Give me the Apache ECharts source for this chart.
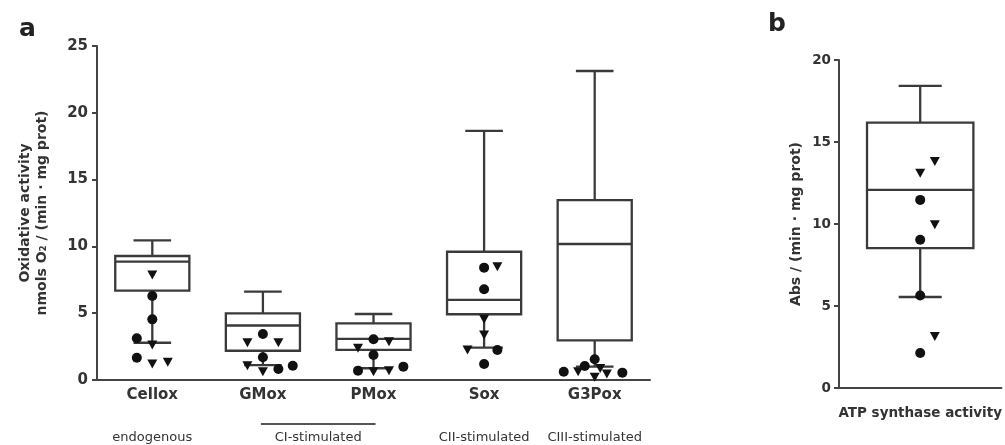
<!DOCTYPE html>
<html><head><meta charset="utf-8">
<script src="https://cdn.jsdelivr.net/npm/echarts@6/dist/echarts.min.js"></script>
<style>html,body{margin:0;padding:0;background:#fff}#c{width:1005px;height:445px}</style>
</head><body><div id="c"></div>
<script>
// ---------- data ----------
const categoriesA = ['Cellox', 'GMox', 'PMox', 'Sox', 'G3Pox'];
const groupLabels = ['endogenous', 'CI-stimulated', 'CII-stimulated', 'CIII-stimulated'];
const groupFrom = [0, 1, 3, 4];
const groupTo = [0, 2, 3, 4];
const yTicksA = [0, 5, 10, 15, 20, 25];
const boxMinA = [2.79, 1.12, 0.88, 2.42, 1.00];
const boxQ1A  = [6.69, 2.19, 2.25, 4.92, 2.96];
const boxMedA = [8.86, 4.08, 3.08, 5.99, 10.18];
const boxQ3A  = [9.28, 4.99, 4.24, 9.60, 13.47];
const boxMaxA = [10.45, 6.61, 4.94, 18.64, 23.13];
// [category index, horizontal jitter (category units), value]
const circlesA = [
  [0, 0, 6.29], [0, 0, 4.54], [0, -0.14, 3.12], [0, -0.14, 1.67],
  [1, 0, 3.44], [1, 0, 1.70], [1, 0.14, 0.82], [1, 0.27, 1.07],
  [2, 0, 3.05], [2, 0, 1.87], [2, -0.14, 0.70], [2, 0.27, 1.00],
  [3, 0, 8.41], [3, 0, 6.79], [3, 0.12, 2.25], [3, 0, 1.20],
  [4, 0, 1.55], [4, -0.09, 1.05], [4, -0.28, 0.62], [4, 0.25, 0.55]
];
const trianglesA = [
  [0, 0, 7.86], [0, 0, 2.62], [0, 0, 1.20], [0, 0.14, 1.32],
  [1, -0.14, 2.79], [1, 0.14, 2.79], [1, -0.14, 1.07], [1, 0, 0.62],
  [2, 0.14, 2.87], [2, -0.14, 2.37], [2, 0, 0.62], [2, 0.14, 0.70],
  [3, 0.12, 8.48], [3, 0, 4.54], [3, 0, 3.37], [3, -0.15, 2.25],
  [4, -0.15, 0.62], [4, 0.11, 0.45], [4, 0, 0.20], [4, 0.05, 0.87]
];

const categoriesB = ['ATP synthase activity'];
const yTicksB = [0, 5, 10, 15, 20];
const boxMinB = [5.55];
const boxQ1B  = [8.53];
const boxMedB = [12.08];
const boxQ3B  = [16.18];
const boxMaxB = [18.42];
const circlesB = [[0, 0, 11.47], [0, 0, 9.04], [0, 0, 5.64], [0, 0, 2.13]];
const trianglesB = [[0, 0.09, 13.81], [0, 0, 13.10], [0, 0.09, 9.95], [0, 0.09, 3.14]];

// ---------- styles ----------
const FONT = '"DejaVu Sans", "Liberation Sans", Arial, sans-serif';
const AX = '#444';
const BOXC = '#3a3a3a';
const MK = '#111';

function boxRenderer(boxFrac, capFrac) {
  return function (params, api) {
    const x = api.value(0);
    const band = api.size([1, 0])[0];
    const hw = band * boxFrac / 2, cw = band * capFrac / 2;
    const pMin = api.coord([x, api.value(1)]);
    const pQ1 = api.coord([x, api.value(2)]);
    const pMed = api.coord([x, api.value(3)]);
    const pQ3 = api.coord([x, api.value(4)]);
    const pMax = api.coord([x, api.value(5)]);
    const cx = pMin[0];
    const ls = { stroke: BOXC, lineWidth: 2.3, fill: null };
    return {
      type: 'group',
      children: [
        { type: 'line', shape: { x1: cx, y1: pQ3[1], x2: cx, y2: pMax[1] }, style: ls },
        { type: 'line', shape: { x1: cx, y1: pQ1[1], x2: cx, y2: pMin[1] }, style: ls },
        { type: 'line', shape: { x1: cx - cw, y1: pMax[1], x2: cx + cw, y2: pMax[1] }, style: ls },
        { type: 'line', shape: { x1: cx - cw, y1: pMin[1], x2: cx + cw, y2: pMin[1] }, style: ls },
        { type: 'rect', shape: { x: cx - hw, y: pQ3[1], width: 2 * hw, height: pQ1[1] - pQ3[1] },
          style: { stroke: BOXC, lineWidth: 2.3, fill: 'rgba(255,255,255,0)' } },
        { type: 'line', shape: { x1: cx - hw, y1: pMed[1], x2: cx + hw, y2: pMed[1] }, style: ls }
      ]
    };
  };
}

function boxData(mins, q1s, meds, q3s, maxs) {
  return mins.map((m, i) => [i, m, q1s[i], meds[i], q3s[i], maxs[i]]);
}
function pts(list) { return list.map(([c, j, v]) => [c + j, v]); }

const axisLineStyle = { color: AX, width: 2 };
const tickLabel = (size) => ({ color: '#333', fontFamily: FONT, fontWeight: 'bold', fontSize: size });

const chart = echarts.init(document.getElementById('c'), null, { renderer: 'canvas' });

const option = {
  animation: false,
  backgroundColor: '#fff',
  title: [
    { text: 'a', left: 14, top: 12, textStyle: { fontFamily: FONT, fontWeight: 'bold', fontSize: 25, color: '#222' } },
    { text: 'b', left: 763, top: 7, textStyle: { fontFamily: FONT, fontWeight: 'bold', fontSize: 25, color: '#222' } }
  ],
  grid: [
    { left: 97, top: 46, width: 553, height: 334 },
    { left: 839, top: 60, width: 166, height: 328 }
  ],
  xAxis: [
    { type: 'category', gridIndex: 0, data: categoriesA,
      axisLine: { onZero: false, lineStyle: axisLineStyle },
      axisTick: { alignWithLabel: true, length: 5, lineStyle: axisLineStyle },
      axisLabel: Object.assign({ margin: 8 }, tickLabel(15)) },
    { type: 'value', gridIndex: 0, min: -0.5, max: 4.5, show: false },
    { type: 'category', gridIndex: 1, data: categoriesB,
      axisLine: { onZero: false, lineStyle: axisLineStyle },
      axisTick: { alignWithLabel: true, length: 5, lineStyle: axisLineStyle },
      axisLabel: Object.assign({ margin: 18 }, tickLabel(13.5)) },
    { type: 'value', gridIndex: 1, min: -0.5, max: 0.5, show: false }
  ],
  yAxis: [
    { type: 'value', gridIndex: 0, min: yTicksA[0], max: yTicksA[yTicksA.length - 1],
      interval: yTicksA[1] - yTicksA[0],
      splitLine: { show: false },
      axisLine: { show: true, onZero: false, lineStyle: axisLineStyle },
      axisTick: { show: true, length: 5, lineStyle: axisLineStyle },
      axisLabel: Object.assign({ margin: 9 }, tickLabel(15)),
      name: 'Oxidative activity\nnmols O\u2082 / (min \u00b7 mg prot)',
      nameLocation: 'middle', nameGap: 46,
      nameTextStyle: { fontFamily: FONT, fontWeight: 'bold', fontSize: 14, lineHeight: 17, color: '#333' } },
    { type: 'value', gridIndex: 1, min: yTicksB[0], max: yTicksB[yTicksB.length - 1],
      interval: yTicksB[1] - yTicksB[0],
      splitLine: { show: false },
      axisLine: { show: true, onZero: false, lineStyle: axisLineStyle },
      axisTick: { show: true, length: 5, lineStyle: axisLineStyle },
      axisLabel: Object.assign({ margin: 8 }, tickLabel(13.5)),
      name: 'Abs / (min \u00b7 mg prot)',
      nameLocation: 'middle', nameGap: 36,
      nameTextStyle: { fontFamily: FONT, fontWeight: 'bold', fontSize: 14, color: '#333' } }
  ],
  series: [
    { type: 'custom', xAxisIndex: 1, yAxisIndex: 0, z: 2,
      renderItem: boxRenderer(0.67, 0.34),
      encode: { x: 0, y: [1, 2, 3, 4, 5] },
      data: boxData(boxMinA, boxQ1A, boxMedA, boxQ3A, boxMaxA) },
    { type: 'scatter', xAxisIndex: 1, yAxisIndex: 0, z: 3, symbol: 'circle', symbolSize: 10,
      itemStyle: { color: MK, opacity: 1 }, data: pts(circlesA) },
    { type: 'scatter', xAxisIndex: 1, yAxisIndex: 0, z: 3, symbol: 'triangle', symbolRotate: 180,
      symbolSize: [10, 9], itemStyle: { color: MK, opacity: 1 }, data: pts(trianglesA) },
    { type: 'custom', xAxisIndex: 3, yAxisIndex: 1, z: 2,
      renderItem: boxRenderer(0.655, 0.265),
      encode: { x: 0, y: [1, 2, 3, 4, 5] },
      data: boxData(boxMinB, boxQ1B, boxMedB, boxQ3B, boxMaxB) },
    { type: 'scatter', xAxisIndex: 3, yAxisIndex: 1, z: 3, symbol: 'circle', symbolSize: 10,
      itemStyle: { color: MK, opacity: 1 }, data: pts(circlesB) },
    { type: 'scatter', xAxisIndex: 3, yAxisIndex: 1, z: 3, symbol: 'triangle', symbolRotate: 180,
      symbolSize: [10, 9], itemStyle: { color: MK, opacity: 1 }, data: pts(trianglesB) }
  ]
};
chart.setOption(option);

// group annotations under the category labels, positioned through the axis scale
const gfx = [];
groupLabels.forEach((t, i) => {
  const x1 = chart.convertToPixel({ xAxisIndex: 1 }, groupFrom[i]);
  const x2 = chart.convertToPixel({ xAxisIndex: 1 }, groupTo[i]);
  const cx = (x1 + x2) / 2;
  gfx.push({ type: 'text', x: cx, y: 438, style: { text: t, fontFamily: FONT, fontSize: 13, fill: '#333',
    textAlign: 'center', textVerticalAlign: 'middle' } });
  if (groupTo[i] > groupFrom[i]) {
    gfx.push({ type: 'line', shape: { x1: x1 - 2, y1: 424, x2: x2 + 2, y2: 424 }, style: { stroke: '#555', lineWidth: 2 } });
  }
});
chart.setOption({ graphic: gfx });
</script></body></html>
